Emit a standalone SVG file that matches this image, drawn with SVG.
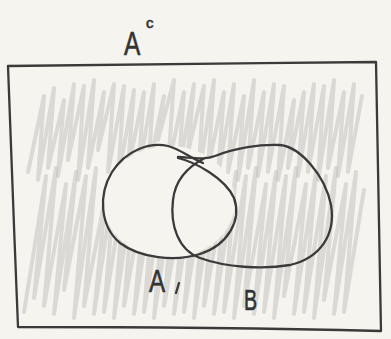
<svg xmlns="http://www.w3.org/2000/svg" width="391" height="339" viewBox="0 0 391 339">
<style>
.ink{fill:none;stroke:#3a3a3a;stroke-width:2.3;stroke-linecap:round;stroke-linejoin:round}
.shade{fill:none;stroke:#a8a8a8;stroke-width:4;stroke-opacity:0.36;stroke-linejoin:round;stroke-linecap:round}
.lbl{font-family:"Liberation Sans",Arial,sans-serif;fill:#333;stroke:#333;stroke-width:0.6}
</style>
<defs>
<mask id="notA">
<rect x="0" y="0" width="391" height="339" fill="#fff"/>
<ellipse cx="169" cy="202" rx="66" ry="56" fill="#000"/>
</mask>
</defs>
<rect width="391" height="339" fill="#f6f4ef"/>
<g id="shading" mask="url(#notA)">
<polyline class="shade" points="28,172 44,96 38,180 54,88 48,168 64,100 58,176 74,84 68,160 84,86 78,180 94,80 88,168 104,92 98,150 114,84 108,172 124,86 118,180 134,90 128,168 144,92 138,176 154,84 148,172 164,96 158,140 174,80 168,168 184,92 178,176 194,84 188,152 204,86 198,180 214,80 208,168 224,92 218,176 234,84 228,172 244,96 238,180 254,80 248,168 264,92 258,176 274,84 268,172 284,86 278,180 294,100 288,168 304,92 298,176 314,84 308,172 324,86 318,180 334,80 328,168 344,92 338,176 354,84 348,172 362,96"/>
<polyline class="shade" points="24,312 46,176 34,298 56,168 44,306 66,184 54,314 76,172 64,290 86,176 74,318 96,168 84,306 106,194 94,314 116,172 104,312 126,176 114,318 136,168 124,306 146,184 134,314 156,172 144,312 166,176 154,318 176,168 164,306 186,184 174,314 196,172 184,312 206,176 194,318 216,168 204,306 226,184 214,314 236,172 224,312 246,176 234,318 256,168 244,306 266,184 254,314 276,172 264,312 286,176 274,318 296,168 284,296 306,184 294,314 316,172 304,312 326,176 314,318 336,168 324,300 346,184 334,314 356,172 344,312 364,190"/>
</g>
<g id="universe">
<path class="ink" d="M8,66 C100,65 250,63 376,62 C378,150 379,250 381,331 C260,328 120,327 18,327 C14,240 12,150 8,66 Z"/>
</g>
<g id="setA">
<path class="ink" d="M178,158 C195,162 225,178 234,198 C242,220 228,245 200,254 C175,262 140,258 120,243 C100,226 98,195 112,172 C126,150 150,142 168,146 C180,149 190,158 203,163"/>
</g>
<g id="setB">
<path class="ink" d="M178,157 C195,158 205,160 215,156 C235,148 260,144 280,145 C300,147 325,175 331,205 C336,235 320,258 290,265 C262,270 225,267 200,258 C178,250 170,225 173,200 C175,182 185,168 205,158"/>
</g>
<g id="connectors"></g>
<g id="labels">
<text class="lbl" x="0" y="0" font-size="34" transform="translate(124,55) scale(0.72,1)">A</text>
<text class="lbl" x="146" y="28" font-size="15">c</text>
<text class="lbl" x="0" y="0" font-size="31" transform="translate(149,292) scale(0.78,1)">A</text>
<path class="ink" d="M179,283 L176,293"/>
<text class="lbl" x="0" y="0" font-size="29" transform="translate(244,310) scale(0.68,1)">B</text>
</g>
</svg>
